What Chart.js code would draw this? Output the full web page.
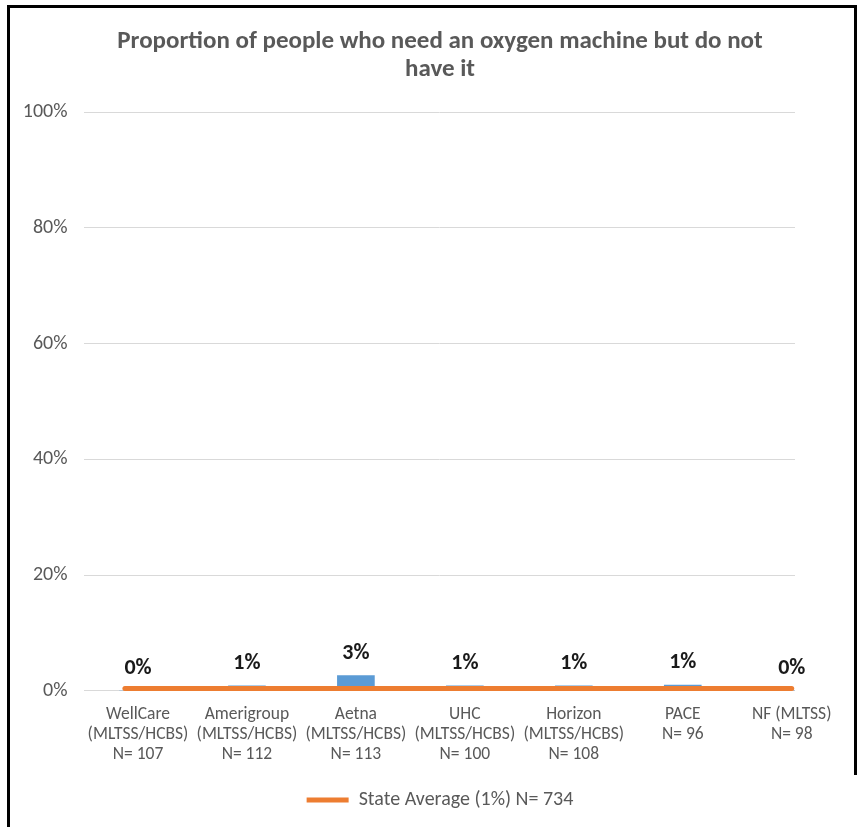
<!DOCTYPE html>
<html>
<head>
<meta charset="utf-8">
<script src="https://cdn.jsdelivr.net/npm/chart.js@4/dist/chart.umd.min.js"></script>
<style>
  html, body { margin: 0; padding: 0; background: #fff; }
  #wrap { position: relative; width: 860px; height: 827px; overflow: hidden; }
  #c { position: absolute; left: 0; top: 0; }
  #frameL { position: absolute; left: 7px; top: 5px; width: 3px; height: 830px; background: #000; }
  #frameT { position: absolute; left: 7px; top: 5px; width: 850px; height: 3px; background: #000; }
  #frameR { position: absolute; left: 854px; top: 5px; width: 3px; height: 770px; background: #000; }
</style>
</head>
<body>
<div id="wrap">
  <canvas id="c" width="860" height="827"></canvas>
  <div id="frameL"></div><div id="frameT"></div><div id="frameR"></div>
</div>
<script>
// ---- data ----
const categories = [
  ['WellCare', '(MLTSS/HCBS)', 'N= 107'],
  ['Amerigroup', '(MLTSS/HCBS)', 'N= 112'],
  ['Aetna', '(MLTSS/HCBS)', 'N= 113'],
  ['UHC', '(MLTSS/HCBS)', 'N= 100'],
  ['Horizon', '(MLTSS/HCBS)', 'N= 108'],
  ['PACE', 'N= 96'],
  ['NF (MLTSS)', 'N= 98']
];
const planValues = [0, 0.9, 2.65, 0.9, 0.9, 1.04, 0];   // percent
const stateAverageX = [-0.12, 6];                          // category index span
const stateAverageY = [0.45, 0.45];                        // percent as drawn
const stateAverageLabel = 'State Average (1%) N= 734';
const yTicks = [0, 20, 40, 60, 80, 100];
const titleLines = ['Proportion of people who need an oxygen machine but do not', 'have it'];

const FONT = 'Carlito, Calibri, Lato, sans-serif';
const GREY = '#595959';

const barData = planValues.map((v, i) => ({ x: i, y: v }));
const lineData = stateAverageX.map((x, i) => ({ x: x, y: stateAverageY[i] }));

const barLabels = {
  id: 'barLabels',
  afterDatasetsDraw(chart) {
    const ctx = chart.ctx;
    const meta = chart.getDatasetMeta(1);
    ctx.save();
    ctx.font = 'bold 22px ' + FONT;
    ctx.fillStyle = '#1a1a1a';
    ctx.textAlign = 'center';
    ctx.textBaseline = 'middle';
    meta.data.forEach((el, i) => {
      ctx.fillText(Math.round(planValues[i]) + '%', el.x, el.y - 22);
    });
    ctx.restore();
  }
};

new Chart(document.getElementById('c'), {
  type: 'bar',
  data: {
    datasets: [
      {
        type: 'line',
        label: stateAverageLabel,
        data: lineData,
        borderColor: '#ED7D31',
        backgroundColor: '#ED7D31',
        borderWidth: 5,
        borderCapStyle: 'round',
        pointRadius: 0,
        fill: false,
        order: 0
      },
      {
        type: 'bar',
        label: 'Plans',
        data: barData,
        backgroundColor: '#5B9BD5',
        barThickness: 37,
        order: 1
      }
    ]
  },
  options: {
    responsive: false,
    animation: false,
    layout: { padding: { top: 28, left: 20, right: 0, bottom: 7 } },
    plugins: {
      tooltip: { enabled: false },
      title: {
        display: true,
        text: titleLines,
        color: GREY,
        font: { family: FONT, size: 25, weight: 'bold', lineHeight: 1.12 },
        padding: { top: 0, bottom: 28 }
      },
      legend: {
        position: 'bottom',
        labels: {
          color: GREY,
          font: { family: FONT, size: 20 },
          boxWidth: 42,
          boxHeight: 5,
          padding: 19,
          generateLabels: () => [{
            text: stateAverageLabel,
            fillStyle: '#ED7D31',
            strokeStyle: '#ED7D31',
            lineWidth: 0,
            fontColor: GREY,
            datasetIndex: 0,
            hidden: false
          }]
        }
      }
    },
    scales: {
      x: {
        type: 'linear',
        min: -0.5,
        max: 6.03,
        offset: false,
        grid: { display: false },
        border: { display: false },
        afterBuildTicks: (axis) => { axis.ticks = categories.map((c, i) => ({ value: i })); },
        ticks: {
          autoSkip: false,
          maxRotation: 0,
          minRotation: 0,
          color: GREY,
          padding: 6,
          font: { family: FONT, size: 17.5, lineHeight: 1.143 },
          callback: (v) => categories[v] || ''
        }
      },
      y: {
        min: 0,
        max: 100,
        afterBuildTicks: (axis) => { axis.ticks = yTicks.map(v => ({ value: v })); },
        afterFit: (axis) => { axis.width = 63.5; },
        grid: { color: '#D9D9D9', lineWidth: 1, drawTicks: false },
        border: { display: false },
        ticks: {
          color: GREY,
          padding: 16,
          font: { family: FONT, size: 20 },
          callback: (v) => v + '%'
        }
      },
      yRightSpace: {
        position: 'right',
        min: 0,
        max: 100,
        grid: { display: false },
        border: { display: false },
        ticks: { display: false },
        afterFit: (axis) => { axis.width = 65; }
      }
    }
  },
  plugins: [barLabels]
});
</script>
</body>
</html>
